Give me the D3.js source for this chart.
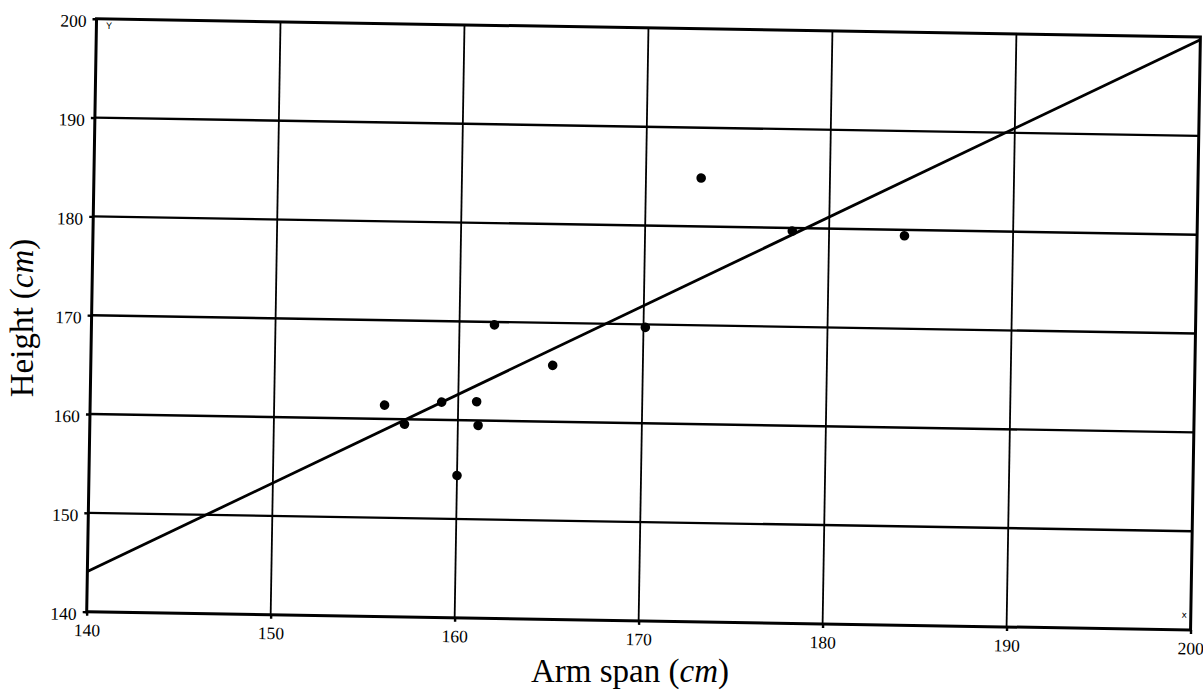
<!DOCTYPE html>
<html>
<head>
<meta charset="utf-8">
<script src="https://cdn.jsdelivr.net/npm/d3@7"></script>
<style>
  body { margin: 0; background: #fff; }
</style>
</head>
<body>
<svg id="chart" width="1203" height="695"></svg>
<script>
// values
const armSpan = [156.0, 157.1, 159.1, 160.0, 161.0, 161.1, 161.9, 165.1, 170.1, 173.0, 178.0, 184.1];
const heightCm = [161.4, 159.5, 161.8, 154.4, 161.9, 159.5, 169.7, 165.7, 169.7, 184.9, 179.7, 179.4];
const xTicks = [140, 150, 160, 170, 180, 190, 200];
const yTicks = [140, 150, 160, 170, 180, 190, 200];
// least squares line as drawn
const fitSlope = 0.928;
const fitIntercept = 14.14;

const svg = d3.select("#chart");
const plotW = 1104, plotH = 593;

// the scan is tilted by about one degree, so the whole plot frame is rotated
const plot = svg.append("g")
  .attr("transform", "translate(86.7,611.7) rotate(0.95)");

const x = d3.scaleLinear().domain([140, 200]).range([0, plotW]);
const y = d3.scaleLinear().domain([140, 200]).range([0, -plotH]);

// vertical grid lines
plot.append("g").selectAll("line")
  .data(xTicks.slice(1, -1))
  .join("line")
    .attr("x1", d => x(d)).attr("x2", d => x(d))
    .attr("y1", y(140)).attr("y2", y(200))
    .attr("stroke", "#000")
    .attr("stroke-width", 1.8);

// horizontal grid lines (heavier)
plot.append("g").selectAll("line")
  .data(yTicks.slice(1, -1))
  .join("line")
    .attr("x1", x(140)).attr("x2", x(200))
    .attr("y1", d => y(d)).attr("y2", d => y(d))
    .attr("stroke", "#000")
    .attr("stroke-width", 2.4);

// axes with tick labels
const xAxis = plot.append("g")
  .call(d3.axisBottom(x).tickValues(xTicks).tickSize(4).tickPadding(8).tickFormat(d3.format("d")));
const yAxis = plot.append("g")
  .call(d3.axisLeft(y).tickValues(yTicks).tickSize(4).tickPadding(6).tickFormat(d3.format("d")));

[xAxis, yAxis].forEach(a => {
  a.select(".domain").remove();
  a.selectAll(".tick line").attr("stroke", "#000").attr("stroke-width", 2.4);
  a.selectAll(".tick text")
    .attr("fill", "#000")
    .style("font-family", "'Liberation Serif', 'Times New Roman', serif")
    .style("font-size", "17.5px");
});
yAxis.selectAll(".tick text").attr("dy", "0.45em");

// frame
plot.append("rect")
  .attr("x", x(140)).attr("y", y(200))
  .attr("width", x(200) - x(140)).attr("height", y(140) - y(200))
  .attr("fill", "none")
  .attr("stroke", "#000")
  .attr("stroke-width", 3);

// tiny axis letters from the calculator output
plot.append("text")
  .attr("x", x(140) + 10).attr("y", y(200) + 10)
  .attr("fill", "#000")
  .style("font-family", "'DejaVu Sans', sans-serif")
  .style("font-size", "9px")
  .text("Y");
plot.append("text")
  .attr("x", x(200) - 4).attr("y", y(140) - 12)
  .attr("text-anchor", "end")
  .attr("fill", "#000")
  .style("font-family", "'DejaVu Sans', sans-serif")
  .style("font-size", "9px")
  .text("x");

// regression line
const fitX = [140, 200];
plot.append("line")
  .attr("x1", x(fitX[0])).attr("y1", y(fitIntercept + fitSlope * fitX[0]))
  .attr("x2", x(fitX[1])).attr("y2", y(fitIntercept + fitSlope * fitX[1]))
  .attr("stroke", "#000")
  .attr("stroke-width", 2.8);

// data points
plot.append("g").selectAll("circle")
  .data(armSpan.map((a, i) => [a, heightCm[i]]))
  .join("circle")
    .attr("cx", d => x(d[0]))
    .attr("cy", d => y(d[1]))
    .attr("r", 4.8)
    .attr("fill", "#000");

// axis titles (not tilted)
const titleFont = "'Liberation Serif', 'Times New Roman', serif";
const xTitle = svg.append("text")
  .attr("x", 630).attr("y", 682)
  .attr("text-anchor", "middle")
  .style("font-family", titleFont)
  .style("font-size", "33px");
xTitle.append("tspan").text("Arm span (");
xTitle.append("tspan").style("font-style", "italic").text("cm");
xTitle.append("tspan").text(")");

const yTitle = svg.append("text")
  .attr("transform", "translate(33,318) rotate(-90)")
  .attr("text-anchor", "middle")
  .style("font-family", titleFont)
  .style("font-size", "33px");
yTitle.append("tspan").text("Height (");
yTitle.append("tspan").style("font-style", "italic").text("cm");
yTitle.append("tspan").text(")");
</script>
</body>
</html>
